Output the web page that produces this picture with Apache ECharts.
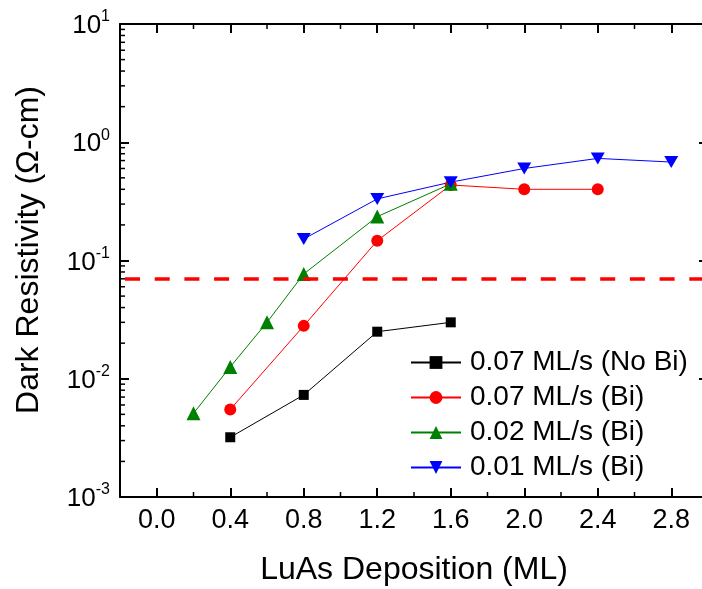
<!DOCTYPE html>
<html>
<head>
<meta charset="utf-8">
<script src="https://cdn.jsdelivr.net/npm/echarts@6/dist/echarts.min.js"></script>
<style>
  html, body { margin: 0; padding: 0; background: #fff; }
  #chart { width: 702px; height: 589px; }
</style>
</head>
<body>
<div id="chart"></div>
<script>
const FONT = '"Liberation Sans", Arial, Helvetica, sans-serif';

// Dark resistivity (Ω-cm) vs LuAs deposition (ML)
const depNoBi07 = [0.4, 0.8, 1.2, 1.6];
const rhoNoBi07 = [0.0032, 0.0073, 0.025, 0.030];

const depBi07 = [0.4, 0.8, 1.2, 1.6, 2.0, 2.4];
const rhoBi07 = [0.0055, 0.028, 0.147, 0.435, 0.40, 0.40];

const depBi02 = [0.2, 0.4, 0.6, 0.8, 1.2, 1.6];
const rhoBi02 = [0.0051, 0.0126, 0.030, 0.077, 0.235, 0.445];

const depBi01 = [0.8, 1.2, 1.6, 2.0, 2.4, 2.8];
const rhoBi01 = [0.152, 0.332, 0.46, 0.60, 0.73, 0.68];

const thresholdRho = 0.07;

const seriesNames = ['0.07 ML/s (No Bi)', '0.07 ML/s (Bi)', '0.02 ML/s (Bi)', '0.01 ML/s (Bi)'];

// axis ranges and tick positions
const X_MIN = -0.2, X_MAX = 3.0;
const Y_MIN = 0.001, Y_MAX = 10;
const xMajorTicks = [0.0, 0.4, 0.8, 1.2, 1.6, 2.0, 2.4, 2.8];
const xMinorTicks = [0.2, 0.6, 1.0, 1.4, 1.8, 2.2, 2.6];
const yMinorTicks = [];
for (const decade of [0.001, 0.01, 0.1, 1]) {
  for (let k = 2; k <= 9; k++) yMinorTicks.push(+(k * decade).toPrecision(3));
}

const zip = (xs, ys) => xs.map((x, i) => [x, ys[i]]);

const DOWN_TRIANGLE = 'path://M0,0 L12,0 L6,10.4 Z';

function dataSeries(name, xs, ys, color, symbol, size) {
  return {
    name, type: 'line', data: zip(xs, ys),
    xAxisIndex: 0, yAxisIndex: 0,
    symbol, symbolSize: size,
    lineStyle: { color, width: 1 },
    itemStyle: { color },
    emphasis: { disabled: true },
    animation: false
  };
}

const redSeries = dataSeries(seriesNames[1], depBi07, rhoBi07, '#ff0000', 'circle', 12);
redSeries.markLine = {
  silent: true,
  symbol: ['none', 'none'],
  label: { show: false },
  lineStyle: { color: '#ff0000', width: 3.5, type: [15, 14.7], dashOffset: 24.7 },
  emphasis: { disabled: true },
  data: [{ yAxis: thresholdRho }]
};

// minor ticks: kind 0 = left, 1 = bottom, 2 = top
const minorTickData = []
  .concat(yMinorTicks.map(v => [X_MIN, v, 0]))
  .concat(xMinorTicks.map(v => [v, Y_MIN, 1]))
  .concat(xMinorTicks.map(v => [v, Y_MAX, 2]));

const axisLineStyle = { color: '#000', width: 2 };

const option = {
  backgroundColor: '#fff',
  animation: false,
  textStyle: { fontFamily: FONT },
  grid: { left: 120, right: -6, top: 24, bottom: 92, containLabel: false, outerBoundsMode: 'none' },
  legend: {
    data: seriesNames,
    orient: 'vertical',
    left: 405, top: 343,
    itemWidth: 50, itemHeight: 16, itemGap: 6,
    textStyle: { fontFamily: FONT, fontSize: 28, color: '#000', lineHeight: 29, padding: [0, 0, 0, 4] },
    selectedMode: false
  },
  xAxis: [
    {
      type: 'value', position: 'bottom', min: X_MIN, max: X_MAX,
      name: 'LuAs Deposition (ML)', nameLocation: 'middle', nameGap: 57,
      nameTextStyle: { fontFamily: FONT, fontSize: 32, color: '#000' },
      axisLine: { show: true, onZero: false, lineStyle: axisLineStyle },
      axisTick: { show: true, inside: true, length: 9, customValues: xMajorTicks, lineStyle: { color: '#000', width: 2 } },
      axisLabel: { show: true, customValues: xMajorTicks, margin: 10, fontFamily: FONT, fontSize: 27, color: '#000',
        formatter: v => v.toFixed(1) },
      splitLine: { show: false }
    },
    {
      type: 'value', position: 'top', min: X_MIN, max: X_MAX,
      axisLine: { show: true, onZero: false, lineStyle: axisLineStyle },
      axisTick: { show: true, inside: true, length: 9, customValues: xMajorTicks, lineStyle: { color: '#000', width: 2 } },
      axisLabel: { show: false },
      splitLine: { show: false }
    }
  ],
  yAxis: [
    {
      type: 'log', logBase: 10, position: 'left', min: Y_MIN, max: Y_MAX,
      name: 'Dark Resistivity (\u03A9-cm)', nameLocation: 'middle', nameGap: 75,
      nameTextStyle: { fontFamily: FONT, fontSize: 32, color: '#000', padding: [0, 0, 0, 21] },
      axisLine: { show: true, onZero: false, lineStyle: axisLineStyle },
      axisTick: { show: true, inside: true, length: 9, lineStyle: { color: '#000', width: 2 } },
      axisLabel: {
        show: true, margin: 10, showMinLabel: true, showMaxLabel: true,
        formatter: v => '{b|10}{s|' + Math.round(Math.log10(v)) + '}',
        rich: {
          b: { fontFamily: FONT, fontSize: 26, color: '#000', lineHeight: 30, verticalAlign: 'bottom' },
          s: { fontFamily: FONT, fontSize: 16, color: '#000', lineHeight: 30, verticalAlign: 'top' }
        }
      },
      splitLine: { show: false }
    },
    {
      type: 'log', logBase: 10, position: 'right', min: Y_MIN, max: Y_MAX,
      axisLine: { show: true, onZero: false, lineStyle: axisLineStyle },
      axisTick: { show: true, inside: true, length: 9, lineStyle: { color: '#000', width: 2 } },
      axisLabel: { show: false },
      splitLine: { show: false }
    }
  ],
  series: [
    dataSeries(seriesNames[0], depNoBi07, rhoNoBi07, '#000000', 'rect', 10),
    redSeries,
    dataSeries(seriesNames[2], depBi02, rhoBi02, '#008000', 'triangle', 14),
    dataSeries(seriesNames[3], depBi01, rhoBi01, '#0000ff', DOWN_TRIANGLE, [14, 12]),
    {
      type: 'custom', name: 'minorTicks', silent: true, clip: false, z: 10,
      xAxisIndex: 0, yAxisIndex: 0,
      data: minorTickData,
      renderItem: (params, api) => {
        const p = api.coord([api.value(0), api.value(1)]);
        const kind = api.value(2);
        let x2 = p[0], y2 = p[1];
        if (kind === 0) x2 += 5;
        else if (kind === 1) y2 -= 5;
        else y2 += 5;
        return { type: 'line', shape: { x1: p[0], y1: p[1], x2, y2 }, style: { stroke: '#000', lineWidth: 1.5 } };
      }
    }
  ]
};

const chart = echarts.init(document.getElementById('chart'), null, { renderer: 'canvas' });
chart.setOption(option);
</script>
</body>
</html>
